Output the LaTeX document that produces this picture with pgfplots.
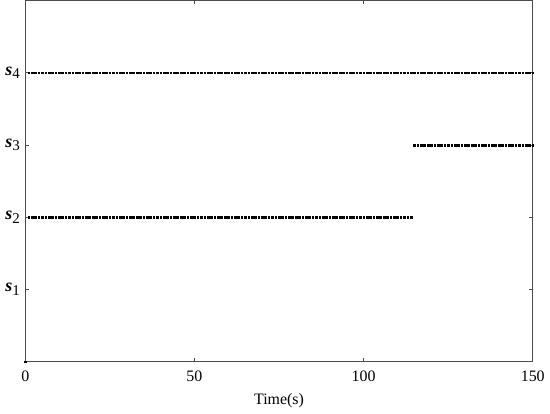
\documentclass[border=0pt]{standalone}
\usepackage{pgfplots}
\pgfplotsset{compat=1.18}
\usepackage{fontspec}
\setmainfont{Liberation Serif}
\newcommand{\sx}[1]{{\bfseries\itshape s}\raisebox{-0.45ex}{\fontsize{15}{16}\selectfont #1}}
\begin{document}
\fontsize{16}{18}\selectfont
\begin{tikzpicture}
\begin{axis}[
    scale only axis,
    width=510pt, height=363pt,
    xmin=0, xmax=150, ymin=0, ymax=5,
    xtick={0,50,100,150},
    ytick={1,2,3,4},
    yticklabels={\sx{1},\sx{2},\sx{3},\sx{4}},
    xlabel={Time(s)},
    xlabel style={yshift=-1pt},
    tick align=inside,
    major tick length=4pt,
    tick style={black!70, line width=0.6pt},
    axis line style={black!70, line width=0.8pt},
    /pgf/number format/assume math mode=true,
    ticklabel style={font=\fontsize{16}{18}\selectfont},
    xticklabel style={yshift=-4pt},
    yticklabel style={font=\fontsize{18}{20}\selectfont},
]
\addplot[only marks, mark=square*, mark size=0.85pt, black] coordinates {(0,0)};
% s4
\addplot[only marks, mark=square*, mark size=0.85pt, black] coordinates {
(1,4)(2,4)(3,4)(4,4)(5,4)(6,4)(7,4)(8,4)(9,4)(10,4)
(11,4)(12,4)(13,4)(14,4)(15,4)(16,4)(17,4)(18,4)(19,4)(20,4)
(21,4)(22,4)(23,4)(24,4)(25,4)(26,4)(27,4)(28,4)(29,4)(30,4)
(31,4)(32,4)(33,4)(34,4)(35,4)(36,4)(37,4)(38,4)(39,4)(40,4)
(41,4)(42,4)(43,4)(44,4)(45,4)(46,4)(47,4)(48,4)(49,4)(50,4)
(51,4)(52,4)(53,4)(54,4)(55,4)(56,4)(57,4)(58,4)(59,4)(60,4)
(61,4)(62,4)(63,4)(64,4)(65,4)(66,4)(67,4)(68,4)(69,4)(70,4)
(71,4)(72,4)(73,4)(74,4)(75,4)(76,4)(77,4)(78,4)(79,4)(80,4)
(81,4)(82,4)(83,4)(84,4)(85,4)(86,4)(87,4)(88,4)(89,4)(90,4)
(91,4)(92,4)(93,4)(94,4)(95,4)(96,4)(97,4)(98,4)(99,4)(100,4)
(101,4)(102,4)(103,4)(104,4)(105,4)(106,4)(107,4)(108,4)(109,4)(110,4)
(111,4)(112,4)(113,4)(114,4)(115,4)(116,4)(117,4)(118,4)(119,4)(120,4)
(121,4)(122,4)(123,4)(124,4)(125,4)(126,4)(127,4)(128,4)(129,4)(130,4)
(131,4)(132,4)(133,4)(134,4)(135,4)(136,4)(137,4)(138,4)(139,4)(140,4)
(141,4)(142,4)(143,4)(144,4)(145,4)(146,4)(147,4)(148,4)(149,4)(150,4)
};
% s2
\addplot[only marks, mark=square*, mark size=0.85pt, black] coordinates {
(1,2)(2,2)(3,2)(4,2)(5,2)(6,2)(7,2)(8,2)(9,2)(10,2)
(11,2)(12,2)(13,2)(14,2)(15,2)(16,2)(17,2)(18,2)(19,2)(20,2)
(21,2)(22,2)(23,2)(24,2)(25,2)(26,2)(27,2)(28,2)(29,2)(30,2)
(31,2)(32,2)(33,2)(34,2)(35,2)(36,2)(37,2)(38,2)(39,2)(40,2)
(41,2)(42,2)(43,2)(44,2)(45,2)(46,2)(47,2)(48,2)(49,2)(50,2)
(51,2)(52,2)(53,2)(54,2)(55,2)(56,2)(57,2)(58,2)(59,2)(60,2)
(61,2)(62,2)(63,2)(64,2)(65,2)(66,2)(67,2)(68,2)(69,2)(70,2)
(71,2)(72,2)(73,2)(74,2)(75,2)(76,2)(77,2)(78,2)(79,2)(80,2)
(81,2)(82,2)(83,2)(84,2)(85,2)(86,2)(87,2)(88,2)(89,2)(90,2)
(91,2)(92,2)(93,2)(94,2)(95,2)(96,2)(97,2)(98,2)(99,2)(100,2)
(101,2)(102,2)(103,2)(104,2)(105,2)(106,2)(107,2)(108,2)(109,2)(110,2)
(111,2)(112,2)(113,2)(114,2)
};
% s3
\addplot[only marks, mark=square*, mark size=0.85pt, black] coordinates {
(115,3)(116,3)(117,3)(118,3)(119,3)(120,3)
(121,3)(122,3)(123,3)(124,3)(125,3)(126,3)(127,3)(128,3)(129,3)(130,3)
(131,3)(132,3)(133,3)(134,3)(135,3)(136,3)(137,3)(138,3)(139,3)(140,3)
(141,3)(142,3)(143,3)(144,3)(145,3)(146,3)(147,3)(148,3)(149,3)(150,3)
};
\end{axis}
\end{tikzpicture}
\end{document}
